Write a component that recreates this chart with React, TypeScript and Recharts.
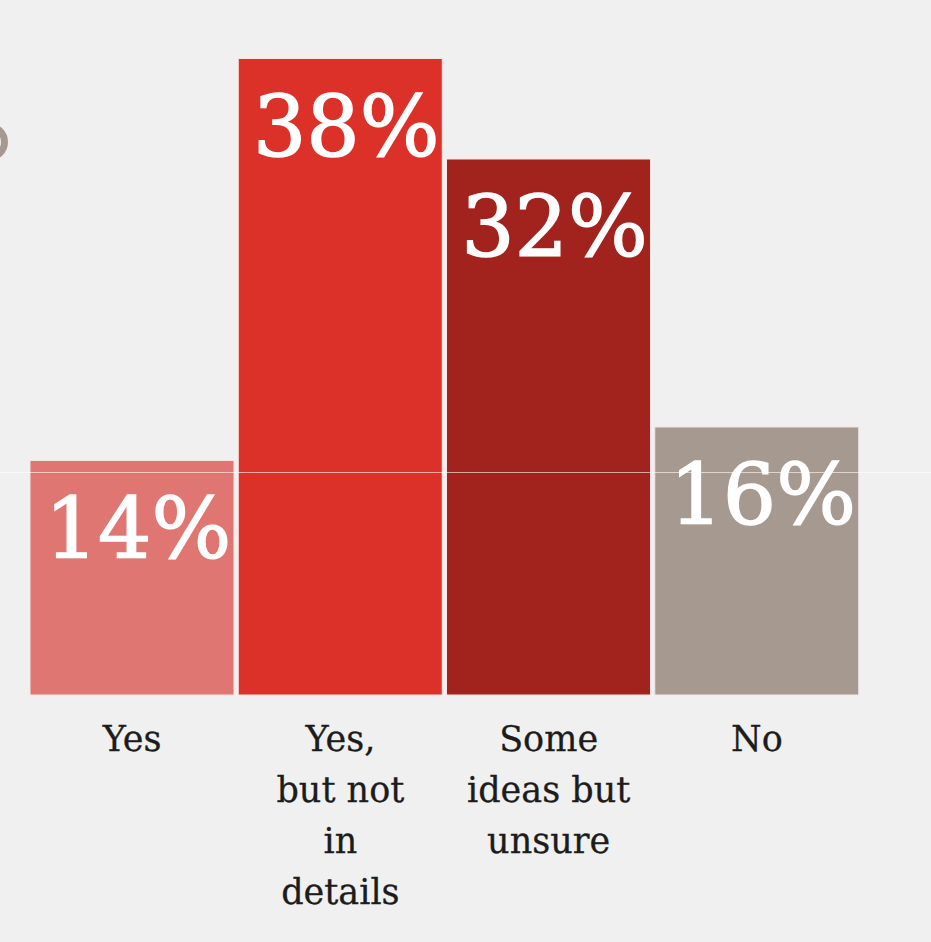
import React from "react";
import { BarChart, Bar, XAxis, YAxis, Cell, LabelList } from "recharts";

const categories = ["Yes", "Yes,\nbut not\nin\ndetails", "Some\nideas but\nunsure", "No"];
const values = [14, 38, 32, 16];
const colors = ["#df7672", "#dc3128", "#a2221e", "#a69990"];

const data = categories.map((c, i) => ({ name: c, value: values[i] }));

const SERIF = "'DejaVu Serif', 'Liberation Serif', serif";

const Tick = (props: any) => {
  const { x, y, payload } = props;
  const lines = String(payload.value).split("\n");
  return (
    <g>
      {lines.map((l: string, i: number) => (
        <text
          key={i}
          x={x}
          y={y + 48 + i * 51}
          textAnchor="middle"
          fontFamily={SERIF}
          fontSize={35}
          fill="#1c1c1c"
          stroke="#1c1c1c"
          strokeWidth={0.3}
        >
          {l}
        </text>
      ))}
    </g>
  );
};

const ValueLabel = (props: any) => {
  const { x, y, width, value } = props;
  return (
    <text
      x={x + width / 2 + 6}
      y={y + 97}
      textAnchor="middle"
      fontFamily={SERIF}
      fontSize={84}
      fill="#ffffff"
      stroke="#ffffff"
      strokeWidth={1.5}
    >
      {value}%
    </text>
  );
};

export default function App() {
  return (
    <div
      style={{
        position: "absolute",
        left: 0,
        top: 0,
        width: 931,
        height: 942,
        background: "#f0f0f0",
        overflow: "hidden",
      }}
    >
      <div
        style={{
          position: "absolute",
          left: -30,
          top: 123,
          width: 24,
          height: 24,
          borderRadius: "50%",
          border: "7px solid #a69990",
        }}
      />
      <BarChart
        width={931}
        height={942}
        data={data}
        margin={{ top: 25, right: 70, left: 28, bottom: 47 }}
        barCategoryGap={2}
      >
        <YAxis hide domain={[0, 40]} />
        <XAxis
          dataKey="name"
          axisLine={false}
          tickLine={false}
          height={200}
          interval={0}
          tick={<Tick />}
        />
        <Bar dataKey="value" isAnimationActive={false} stroke="#f6e6e6" strokeWidth={1}>
          {data.map((d, i) => (
            <Cell key={i} fill={colors[i]} />
          ))}
          <LabelList dataKey="value" content={<ValueLabel />} />
        </Bar>
      </BarChart>
      <div
        style={{
          position: "absolute",
          left: 0,
          top: 472,
          width: 931,
          height: 1,
          background: "rgba(255,255,255,0.6)",
        }}
      />
    </div>
  );
}
